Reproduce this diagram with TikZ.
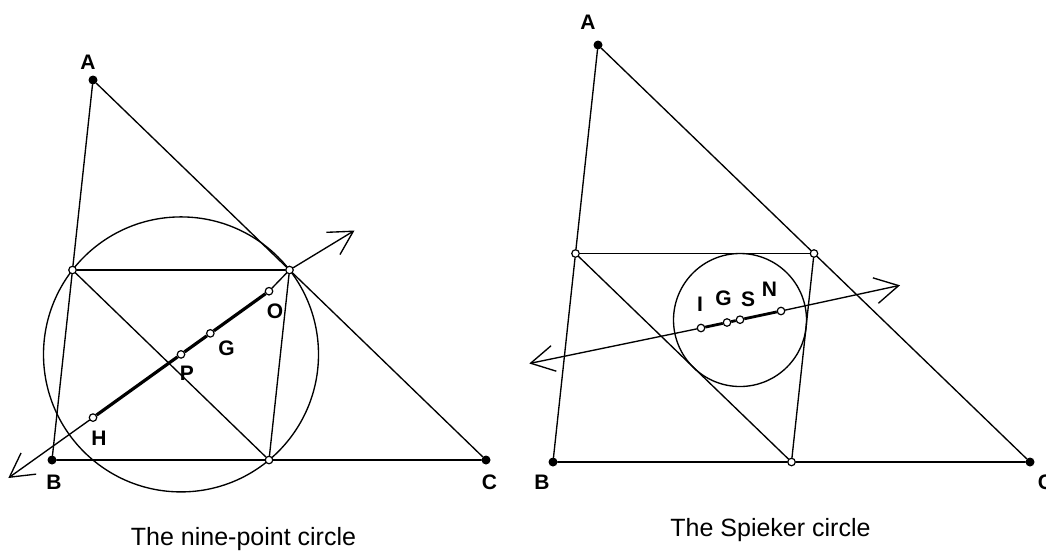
\documentclass[tikz,border=0pt]{standalone}
\usepackage{fontspec}
\setmainfont{Liberation Sans}
\usetikzlibrary{arrows.meta,calc}
\begin{document}
\begin{tikzpicture}[x=1pt,y=-1pt,
  seg/.style={line width=1.35pt,line cap=round},
  thickseg/.style={line width=3.2pt},
  vtx/.style={circle,fill=black,inner sep=0pt,minimum size=9pt},
  midpt/.style={circle,draw=black,fill=white,line width=1.2pt,inner sep=0pt,minimum size=7.5pt},
  lbl/.style={font=\fontsize{21}{25}\selectfont\bfseries,inner sep=0pt},
  captxt/.style={font=\fontsize{25}{30}\selectfont,inner sep=0pt,anchor=base},
  barb/.style={-{Straight Barb[length=23.5pt,width=26pt]}}]
\useasboundingbox (0,0) rectangle (1046,550);

% ---------- left figure: the nine-point circle ----------
\coordinate (ncen) at (181,354.4);
\draw[seg] (ncen) circle (137.5);
\node[vtx] (A1) at (93,80) {};
\node[vtx] (B1) at (52,460) {};
\node[vtx] (C1) at (486,460) {};
\node[midpt] (Mab1) at ($(A1)!0.5!(B1)$) {};
\node[midpt] (Mac1) at ($(A1)!0.5!(C1)$) {};
\node[midpt] (Mbc1) at ($(B1)!0.5!(C1)$) {};
\node[midpt] (H) at (93,417.6) {};
\node[midpt] (O) at (269,291.2) {};
\node[midpt] (G1) at ($(H)!2/3!(O)$) {};
\node[midpt] (P) at ($(H)!0.5!(O)$) {};
\coordinate (Le1) at (8.3,478);
\coordinate (Re1) at (354.5,230.5);

\draw[seg] (A1) -- (Mab1);
\draw[seg] (Mab1) -- (B1);
\draw[seg] (B1) -- (Mbc1);
\draw[seg] (Mbc1) -- (C1);
\draw[seg] (C1) -- (Mac1);
\draw[seg] (Mac1) -- (A1);
\draw[seg] (Mab1) -- (Mac1);
\draw[seg] (Mab1) -- (Mbc1);
\draw[seg] (Mac1) -- (Mbc1);
\draw[seg,barb] (H) -- (Le1);
\draw[seg,barb] (Mac1) -- (Re1);
\draw[seg] (O) -- (Mac1);
\draw[thickseg] (H) -- (P);
\draw[thickseg] (P) -- (G1);
\draw[thickseg] (G1) -- (O);

\node[lbl] (lA1) at (88,62) {A};
\node[lbl] (lB1) at (54,482.5) {B};
\node[lbl] (lC1) at (489.5,482.5) {C};
\node[lbl] (lH) at (99,438) {H};
\node[lbl] (lP) at (187,373) {P};
\node[lbl] (lG1) at (226.5,348) {G};
\node[lbl] (lO) at (275,311.5) {O};
\node[captxt] (cap1) at (243.5,545.5) {The nine-point circle};

% ---------- right figure: the Spieker circle ----------
\coordinate (scen) at (740,320);
\draw[seg] (scen) circle (66.5);
\node[vtx] (A2) at (598,45) {};
\node[vtx] (B2) at (553,462) {};
\node[vtx] (C2) at (1030,462) {};
\node[midpt] (Mab2) at ($(A2)!0.5!(B2)$) {};
\node[midpt] (Mac2) at ($(A2)!0.5!(C2)$) {};
\node[midpt] (Mbc2) at ($(B2)!0.5!(C2)$) {};
\node[midpt] (I) at (701,328) {};
\node[midpt] (N) at (781,311) {};
\node[midpt] (G2) at (727,322.5) {};
\node[midpt] (S) at (740,319.7) {};
\coordinate (Le2) at (529.3,363.5);
\coordinate (Re2) at (900,285.3);

\draw[seg] (A2) -- (Mab2);
\draw[seg] (Mab2) -- (B2);
\draw[seg] (B2) -- (Mbc2);
\draw[seg] (Mbc2) -- (C2);
\draw[seg] (C2) -- (Mac2);
\draw[seg] (Mac2) -- (A2);
\draw[seg] (Mab2) -- (Mac2);
\draw[seg] (Mab2) -- (Mbc2);
\draw[seg] (Mac2) -- (Mbc2);
\draw[seg,barb] (I) -- (Le2);
\draw[seg,barb] (N) -- (Re2);
\draw[line width=2.8pt] (I) -- (G2);
\draw[line width=2.8pt] (G2) -- (S);
\draw[line width=2.8pt] (S) -- (N);

\node[lbl] (lA2) at (588,22.5) {A};
\node[lbl] (lB2) at (542,482.5) {B};
\node[lbl] (lC2) at (1045.5,482.5) {C};
\node[lbl] (lI) at (700,304.5) {I};
\node[lbl] (lG2) at (723.5,298) {G};
\node[lbl] (lS) at (748,299) {S};
\node[lbl] (lN) at (769.5,289) {N};
\node[captxt] (cap2) at (770.5,536) {The Spieker circle};
\end{tikzpicture}
\end{document}
